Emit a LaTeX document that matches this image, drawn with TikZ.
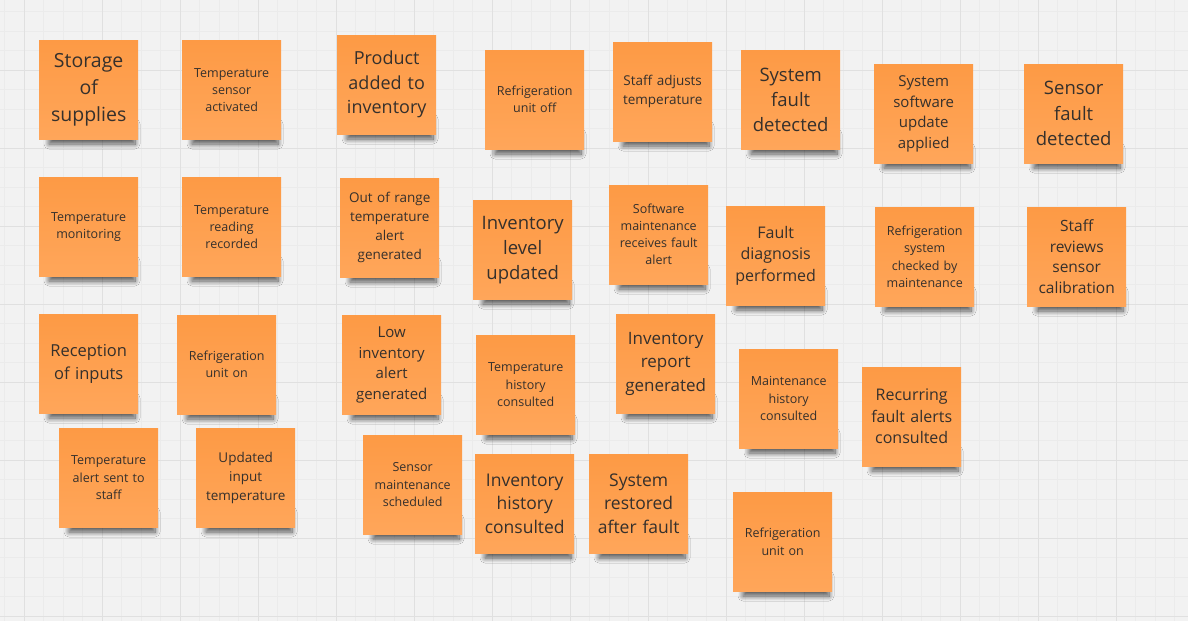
\documentclass[tikz,border=0pt]{standalone}
\usepackage{fontspec}
\setmainfont{Open Sans}
\usetikzlibrary{shadows.blur}
\definecolor{bgc}{HTML}{F2F2F2}
\definecolor{gridmajor}{HTML}{E0E0E0}
\definecolor{gridminor}{HTML}{EBEBEB}
\definecolor{stickytop}{HTML}{FD9A45}
\definecolor{stickybot}{HTML}{FFA65A}
\definecolor{stickytext}{HTML}{35302C}
\tikzset{
  sticky/.style={anchor=north west, minimum width=99pt, minimum height=99pt,
    inner sep=0pt, text width=94pt, align=center,
    top color=stickytop, bottom color=stickybot, text=stickytext},
  stickyshadow/.style={blur shadow={shadow xshift=0pt, shadow yshift=0pt,
    shadow opacity=65, shadow blur radius=5pt, shadow blur steps=10}},
  fs/.style 2 args={font=\fontsize{#1}{#2}\selectfont}
}
\newcommand{\stickynote}[5]{%
  \path[stickyshadow] ({#2+10},{#3+84}) rectangle ({#2+96},{#3+104});
  \node[sticky, #4] (#1) at (#2,#3) {#5};
}
\begin{document}
\begin{tikzpicture}[x=1pt,y=-1pt]
\useasboundingbox (0,0) rectangle (1188,621);
\fill[bgc] (0,0) rectangle (1188,621);
% minor grid
\foreach \i in {0,...,61} {
  \draw[gridminor, line width=0.8pt] ({4.5+19.5*\i},0) -- ({4.5+19.5*\i},621);
}
\foreach \j in {0,...,32} {
  \draw[gridminor, line width=0.8pt] (0,{-7.9+19.5*\j}) -- (1188,{-7.9+19.5*\j});
}
% major grid
\foreach \i in {0,...,15} {
  \draw[gridmajor, line width=1pt] ({24+78*\i},0) -- ({24+78*\i},621);
}
\foreach \j in {0,...,8} {
  \draw[gridmajor, line width=1pt] (0,{-8+78*\j}) -- (1188,{-8+78*\j});
}
% row 1
\stickynote{s1}{39}{40}{fs={19.5}{27}}{Storage\\of\\supplies}
\stickynote{s2}{182}{40}{fs={12.5}{17}}{Temperature\\sensor\\activated}
\stickynote{s3}{337}{35}{fs={18}{24.5}}{Product\\added to\\inventory}
\stickynote{s4}{485}{50}{fs={12.5}{17}}{Refrigeration\\unit off}
\stickynote{s5}{613}{42}{fs={13.5}{19}}{Staff adjusts\\temperature}
\stickynote{s6}{741}{50}{fs={18.5}{25.2}}{System\\fault\\detected}
\stickynote{s7}{874}{64}{fs={15}{20.5}}{System\\software\\update\\applied}
\stickynote{s8}{1024}{64}{fs={18.5}{25.5}}{Sensor\\fault\\detected}
% row 2
\stickynote{s9}{39}{177}{fs={12.5}{17}}{Temperature\\monitoring}
\stickynote{s10}{182}{177}{fs={12.5}{17}}{Temperature\\reading\\recorded}
\stickynote{s11}{340}{178}{fs={13.5}{19}}{Out of range\\temperature\\alert\\generated}
\stickynote{s12}{473}{200}{fs={18.5}{25}}{Inventory\\level\\updated}
\stickynote{s13}{609}{185}{fs={12.5}{17}}{Software\\maintenance\\receives fault\\alert}
\stickynote{s14}{726}{206}{fs={16}{21.7}}{Fault\\diagnosis\\performed}
\stickynote{s15}{875}{207}{fs={12.5}{17.5}}{Refrigeration\\system\\checked by\\maintenance}
\stickynote{s16}{1027}{207}{fs={15.5}{20.7}}{Staff\\reviews\\sensor\\calibration}
% row 3
\stickynote{s17}{39}{314}{fs={16.5}{22.5}}{Reception\\of inputs}
\stickynote{s18}{177}{315}{fs={12.5}{17}}{Refrigeration\\unit on}
\stickynote{s19}{342}{315}{fs={15}{20.5}}{Low\\inventory\\alert\\generated}
\stickynote{s20}{476}{335}{fs={12.5}{17.5}}{Temperature\\history\\consulted}
\stickynote{s21}{616}{314}{fs={17}{23.4}}{Inventory\\report\\generated}
\stickynote{s22}{739}{349}{fs={12.5}{17.5}}{Maintenance\\history\\consulted}
\stickynote{s23}{862}{367}{fs={16}{21.5}}{Recurring\\fault alerts\\consulted}
% row 4
\stickynote{s24}{59}{428}{fs={12.5}{17.5}}{Temperature\\alert sent to\\staff}
\stickynote{s25}{196}{428}{fs={13.5}{19}}{Updated\\input\\temperature}
\stickynote{s26}{363}{435}{fs={12.5}{17.5}}{Sensor\\maintenance\\scheduled}
\stickynote{s27}{475}{454}{fs={17.5}{23.8}}{Inventory\\history\\consulted}
\stickynote{s28}{589}{454}{fs={17.5}{23.8}}{System\\restored\\after fault}
\stickynote{s29}{733}{492}{fs={12.5}{17.5}}{Refrigeration\\unit on}
\end{tikzpicture}
\end{document}
